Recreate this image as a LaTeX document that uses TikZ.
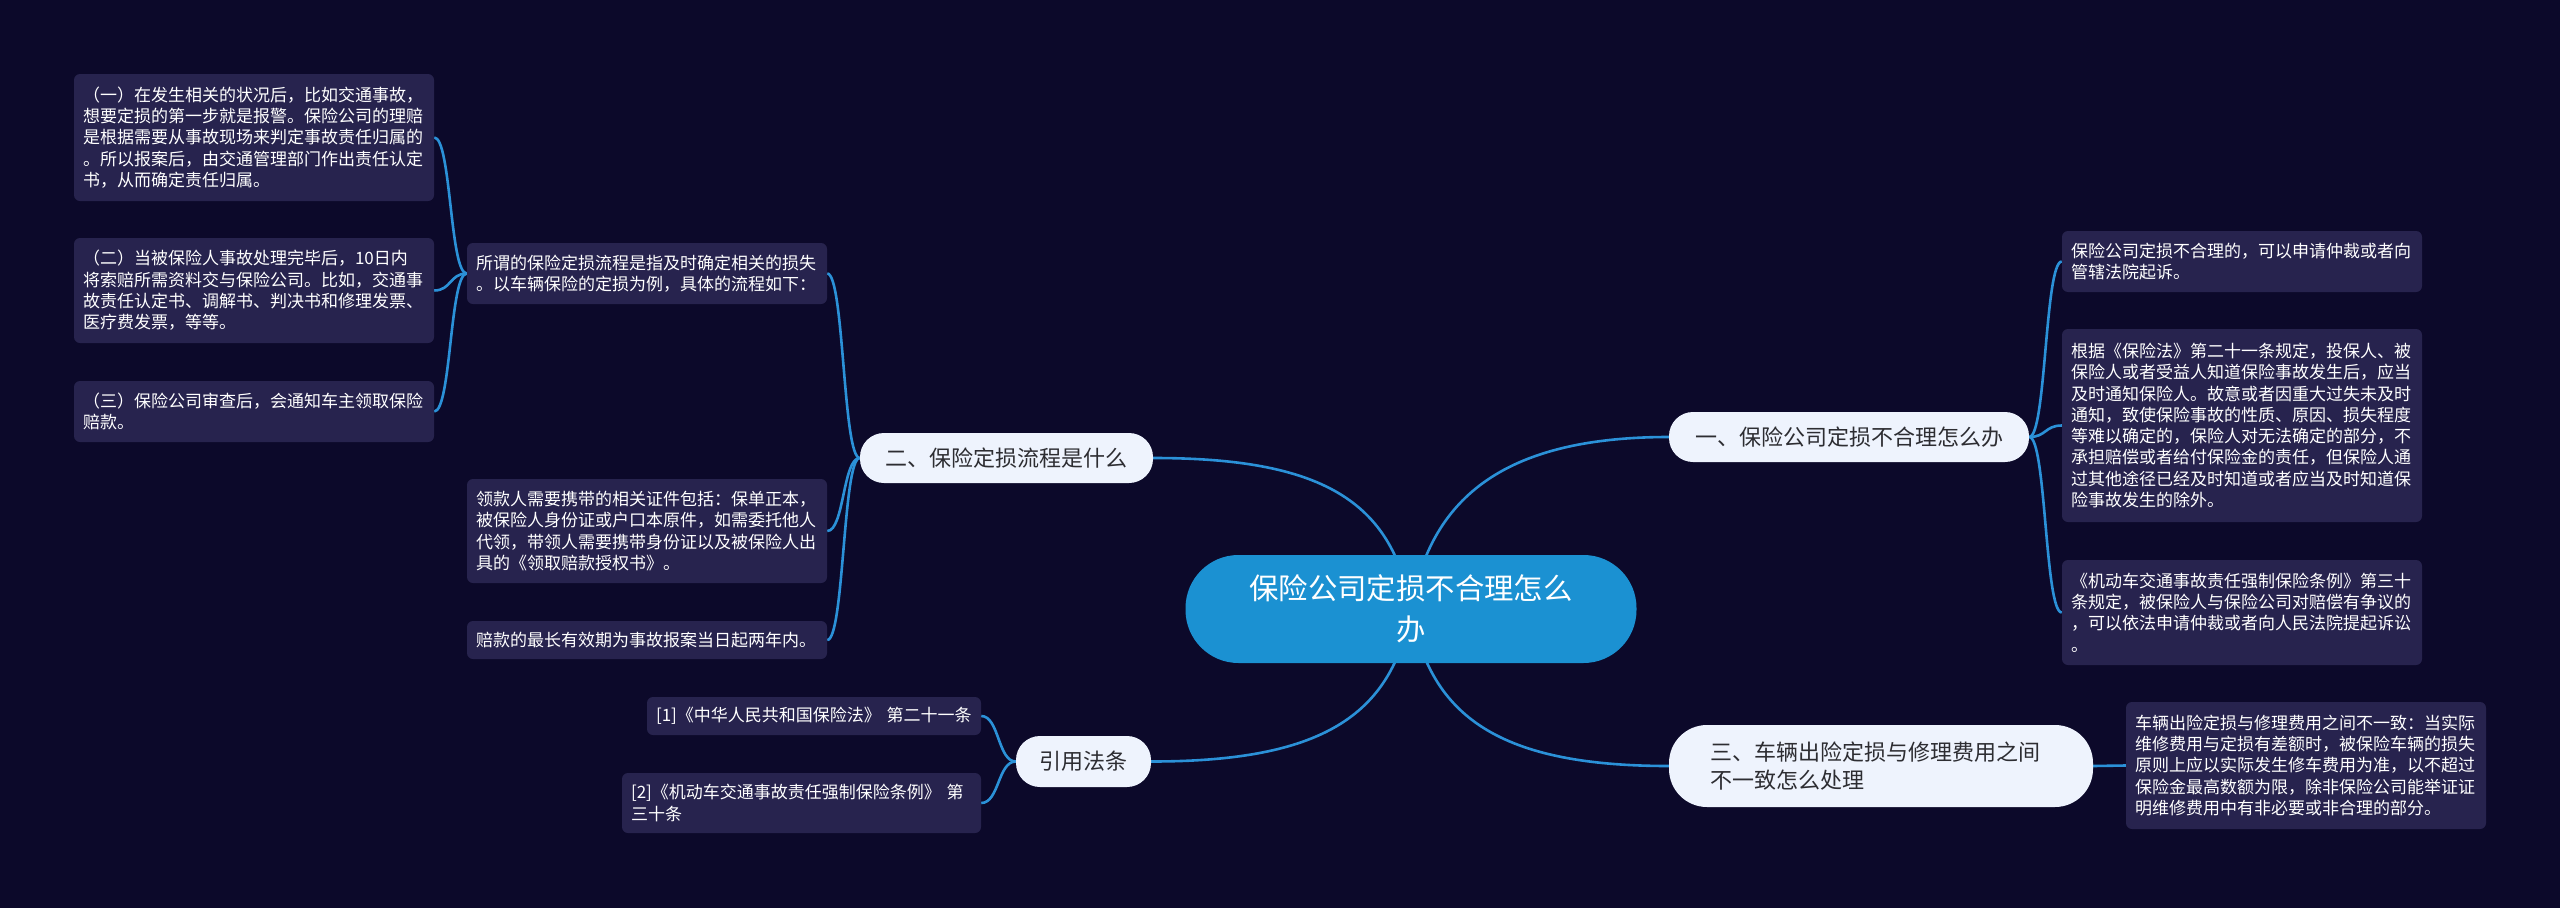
\documentclass[tikz,border=0pt]{standalone}
\usepackage{fontspec}
\setmainfont{Noto Sans CJK SC}
\usetikzlibrary{backgrounds}
\definecolor{bgc}{RGB}{12,9,42}
\definecolor{leafc}{RGB}{39,35,78}
\definecolor{linec}{RGB}{43,145,216}
\definecolor{rootc}{RGB}{27,145,210}
\definecolor{subc}{RGB}{238,243,253}
\definecolor{subt}{RGB}{45,45,50}
\begin{document}
\begin{tikzpicture}[x=1pt,y=-1pt,
  leaf/.style={fill=leafc, rounded corners=6pt, text=white, font=\fontsize{17}{21.3}\selectfont, align=left, inner xsep=9pt, inner ysep=0pt, anchor=center},
  sub/.style={fill=subc, text=subt, font=\fontsize{22}{28}\selectfont, inner ysep=0pt, inner xsep=0pt, anchor=center},
  conn/.style={draw=linec, line width=2.6pt}]
\useasboundingbox (0,0) rectangle (2560,908);

% root
\node[fill=rootc, text=white, rounded corners=53pt, minimum width=451pt, minimum height=108pt, inner sep=0pt, align=center, font=\fontsize{29.4}{41}\selectfont] (root) at (1411,609) {保险公司定损不合理怎么\\办};

% level 1
\node[sub, rounded corners=24pt, minimum width=360pt, minimum height=50pt] (n1) at (1849,437) {一、保险公司定损不合理怎么办};
\node[sub, rounded corners=38pt, minimum width=424pt, minimum height=82pt, text width=342pt, align=left] (n3) at (1881,766) {三、车辆出险定损与修理费用之间\\不一致怎么处理};
\node[sub, rounded corners=24pt, minimum width=293pt, minimum height=50pt] (n2) at (1006.5,458) {二、保险定损流程是什么};
\node[sub, rounded corners=24pt, minimum width=135pt, minimum height=51pt] (n4) at (1083.5,761.5) {引用法条};

% right leaves
\node[leaf, text width=342pt, minimum height=61pt] (R1) at (2242,261.5) {保险公司定损不合理的，可以申请仲裁或者向\\管辖法院起诉。};
\node[leaf, text width=342pt, minimum height=193pt] (R2) at (2242,425.5) {根据《保险法》第二十一条规定，投保人、被\\保险人或者受益人知道保险事故发生后，应当\\及时通知保险人。故意或者因重大过失未及时\\通知，致使保险事故的性质、原因、损失程度\\等难以确定的，保险人对无法确定的部分，不\\承担赔偿或者给付保险金的责任，但保险人通\\过其他途径已经及时知道或者应当及时知道保\\险事故发生的除外。};
\node[leaf, text width=342pt, minimum height=105pt] (R3) at (2242,612.5) {《机动车交通事故责任强制保险条例》第三十\\条规定，被保险人与保险公司对赔偿有争议的\\，可以依法申请仲裁或者向人民法院提起诉讼\\。};
\node[leaf, text width=342pt, minimum height=127pt] (R4) at (2306,765.5) {车辆出险定损与修理费用之间不一致：当实际\\维修费用与定损有差额时，被保险车辆的损失\\原则上应以实际发生修车费用为准，以不超过\\保险金最高数额为限，除非保险公司能举证证\\明维修费用中有非必要或非合理的部分。};

% left leaves
\node[leaf, text width=342pt, minimum height=127pt] (L1) at (254,137.5) {（一）在发生相关的状况后，比如交通事故，\\想要定损的第一步就是报警。保险公司的理赔\\是根据需要从事故现场来判定事故责任归属的\\。所以报案后，由交通管理部门作出责任认定\\书，从而确定责任归属。};
\node[leaf, text width=342pt, minimum height=105pt] (L2) at (254,290.5) {（二）当被保险人事故处理完毕后，10日内\\将索赔所需资料交与保险公司。比如，交通事\\故责任认定书、调解书、判决书和修理发票、\\医疗费发票，等等。};
\node[leaf, text width=342pt, minimum height=61pt] (L3) at (254,411.5) {（三）保险公司审查后，会通知车主领取保险\\赔款。};

\node[leaf, text width=342pt, minimum height=61pt] (M1) at (647,273.5) {所谓的保险定损流程是指及时确定相关的损失\\。以车辆保险的定损为例，具体的流程如下：};
\node[leaf, text width=342pt, minimum height=104pt] (M2) at (647,531) {领款人需要携带的相关证件包括：保单正本，\\被保险人身份证或户口本原件，如需委托他人\\代领，带领人需要携带身份证以及被保险人出\\具的《领取赔款授权书》。};
\node[leaf, text width=342pt, minimum height=38pt] (M3) at (647,640) {赔款的最长有效期为事故报案当日起两年内。};

\node[leaf, text width=316pt, minimum height=38pt] (F1) at (814,716) {[1]《中华人民共和国保险法》 第二十一条};
\node[leaf, text width=341pt, minimum height=60pt] (F2) at (801.5,803) {[2]《机动车交通事故责任强制保险条例》 第\\三十条};

\begin{scope}[on background layer]
  \fill[bgc] (0,0) rectangle (2560,908);
  \draw[conn] (root.center) .. controls +(19,-108) and +(-169,0) .. (n1.west);
  \draw[conn] (root.center) .. controls +(19,108) and +(-169,0) .. (n3.west);
  \draw[conn] (root.center) .. controls +(-19,-108) and +(169,0) .. (n2.east);
  \draw[conn] (root.center) .. controls +(-19,108) and +(169,0) .. (n4.east);

  \foreach \c in {R1,R2,R3}
    \draw[conn] (n1.east) .. controls +(17,0) and +(-17,0) .. (\c.west);
  \draw[conn] (n3.east) .. controls +(17,0) and +(-17,0) .. (R4.west);
  \foreach \c in {M1,M2,M3}
    \draw[conn] (n2.west) .. controls +(-17,0) and +(17,0) .. (\c.east);
  \foreach \c in {L1,L2,L3}
    \draw[conn] (M1.west) .. controls +(-17,0) and +(17,0) .. (\c.east);
  \foreach \c in {F1,F2}
    \draw[conn] (n4.west) .. controls +(-18,0) and +(18,0) .. (\c.east);
\end{scope}
\end{tikzpicture}
\end{document}
